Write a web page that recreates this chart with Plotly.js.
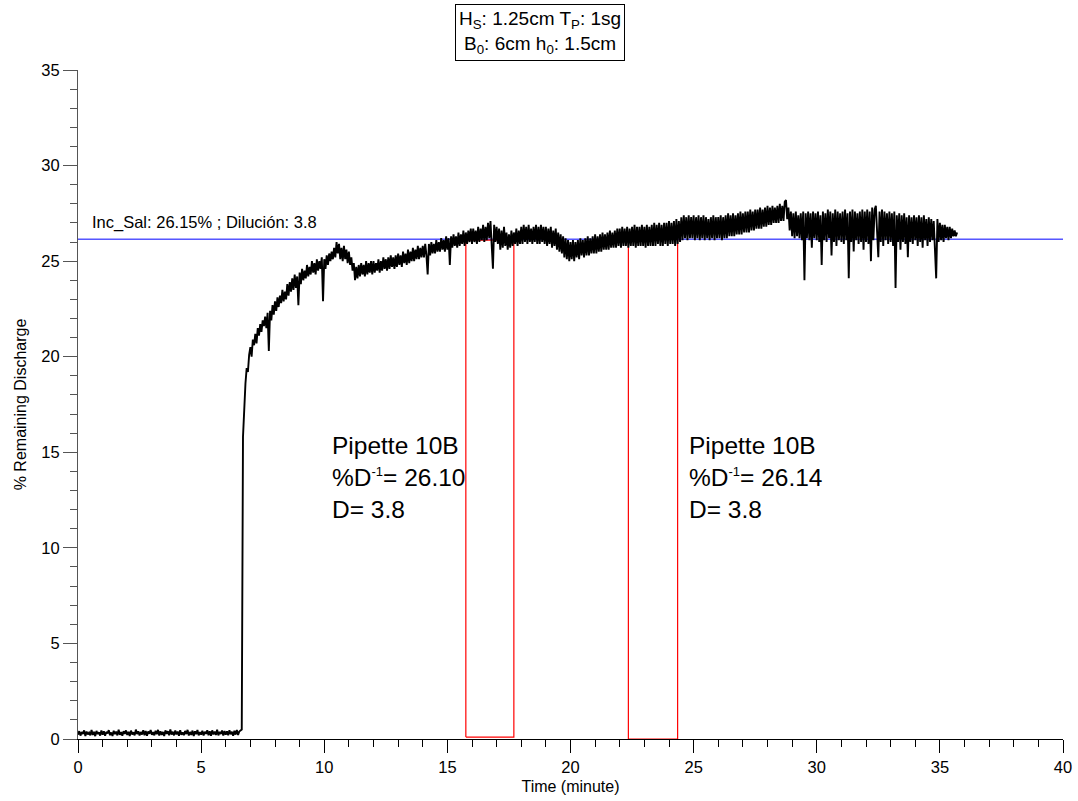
<!DOCTYPE html>
<html>
<head>
<meta charset="utf-8">
<script src="https://cdn.plot.ly/plotly-3.0.1.min.js"></script>
<style>html,body{margin:0;padding:0;background:#fff;}#chart{width:1078px;height:801px;}</style>
</head>
<body>
<div id="chart"></div>
<script>
// Sampling grid of the recorded signal (minutes)
const timeStart = 0.0;
const timeStep = 0.05;

// % Remaining Discharge, one value per sample (rows = 1 minute)
const dischargeBaseline = [ // t = 0.00 .. 6.60
0.22,0.41,0.18,0.36,0.27,0.45,0.16,0.39,0.24,0.33,0.19,0.47,0.21,0.38,0.15,0.42,0.26,0.35,0.18,0.44,
0.23,0.40,0.17,0.37,0.29,0.46,0.20,0.34,0.16,0.43,0.25,0.39,0.19,0.48,0.22,0.36,0.17,0.41,0.27,0.45,
0.21,0.38,0.16,0.44,0.24,0.35,0.19,0.49,0.26,0.40,0.18,0.37,0.23,0.46,0.20,0.42,0.17,0.39,0.28,0.47,
0.22,0.36,0.19,0.43,0.25,0.48,0.18,0.40,0.21,0.37,0.16,0.45,0.27,0.41,0.20,0.50,0.23,0.38,0.19,0.44,
0.24,0.39,0.17,0.46,0.22,0.35,0.20,0.42,0.26,0.48,0.18,0.37,0.21,0.44,0.16,0.40,0.25,0.47,0.19,0.36,
0.23,0.43,0.18,0.38,0.27,0.46,0.20,0.41,0.17,0.45,0.24,0.39,0.21,0.48,0.19,0.37,0.26,0.44,0.18,0.42,
0.22,0.40,0.20,0.46,0.25,0.38,0.17,0.43,0.23,0.47,0.21,0.39,0.45
];
const dischargeMain = [ // t = 6.65 .. 35.70
0.50,15.8,17.6,18.6,19.4,19.2,20.1,
20.5,20.0,20.9,20.6,21.2,20.7,21.5,21.1,21.7,21.3,21.9,21.6,22.1,21.5,22.3,20.3,22.4,21.9,22.7,22.2,
22.9,22.4,23.1,22.6,23.2,22.8,23.5,22.9,23.4,23.0,23.8,23.2,23.9,23.4,24.1,23.5,24.3,23.6,24.2,22.7,
24.4,23.8,24.6,24.0,24.5,24.1,24.8,24.2,24.7,24.3,25.0,24.4,24.9,24.3,25.1,24.5,25.0,24.6,25.2,22.9,
25.1,24.6,25.3,24.8,25.4,25.0,25.5,25.1,25.7,25.2,26.0,25.4,25.9,25.1,25.7,25.0,25.8,25.1,25.6,24.9,
25.5,24.8,25.2,24.5,24.9,24.0,24.7,24.1,24.8,24.2,24.9,24.3,24.8,24.2,25.0,24.3,24.9,24.4,25.0,24.3,
25.0,24.4,24.9,24.5,25.1,24.4,25.0,24.5,25.2,24.6,25.1,24.5,25.2,24.6,25.3,24.7,25.2,24.6,25.3,24.7,
25.4,24.8,25.3,24.7,25.5,24.9,25.4,24.8,25.6,24.9,25.5,25.0,25.7,25.0,25.6,25.1,25.8,25.1,25.7,25.2,
25.8,25.2,25.9,25.3,24.3,25.9,25.3,26.0,25.4,25.9,25.4,26.1,25.5,26.0,25.5,26.2,25.6,26.1,25.5,26.3,
25.6,26.2,24.8,26.3,25.7,26.4,25.8,26.3,25.7,26.5,25.8,26.4,25.9,26.6,25.8,26.5,25.9,26.6,26.0,26.7,
25.9,26.7,26.0,26.6,25.9,26.8,26.0,26.7,26.1,26.9,26.0,26.8,26.1,27.0,26.2,27.1,25.9,24.6,26.9,26.0,
26.8,25.9,26.7,25.6,26.6,25.7,26.8,25.8,26.5,25.6,26.4,25.7,26.6,25.8,26.5,25.9,26.7,25.8,26.6,25.9,
26.8,25.9,26.9,26.0,26.8,25.9,26.9,26.0,26.7,25.9,26.8,26.0,26.9,25.9,26.8,25.9,26.9,26.0,26.8,25.9,
26.8,25.8,26.7,25.9,26.8,25.7,26.6,25.8,26.7,25.6,26.5,25.5,26.4,25.4,26.3,25.2,26.2,25.1,26.1,25.0,
26.0,25.1,26.1,25.0,26.0,25.2,26.1,25.1,26.2,25.3,26.1,25.2,26.2,25.3,26.3,25.3,26.2,25.4,26.3,25.4,
26.4,25.4,26.3,25.5,26.4,25.5,26.5,25.6,26.4,25.6,26.5,25.6,26.6,25.7,26.5,25.7,26.6,25.7,26.7,25.8,
26.7,25.7,26.8,25.8,26.7,25.8,26.8,25.7,26.7,25.8,26.8,25.8,26.9,25.7,26.8,25.8,26.8,25.8,26.9,25.8,
26.8,25.7,26.9,25.8,26.8,25.8,26.9,25.8,27.0,25.8,26.9,25.9,27.0,25.8,26.9,25.8,27.0,25.9,27.0,25.8,
27.1,25.9,27.0,25.9,27.1,25.8,27.2,25.9,27.1,26.0,27.3,26.1,27.4,26.2,27.3,26.1,27.4,26.2,27.3,26.2,
27.4,26.1,27.3,26.2,27.4,26.1,27.3,26.2,27.4,26.1,27.3,26.2,27.2,26.1,27.3,26.2,27.4,26.1,27.3,26.2,
27.3,26.2,27.4,26.1,27.3,26.2,27.4,26.2,27.5,26.3,27.4,26.3,27.5,26.3,27.4,26.4,27.5,26.4,27.6,26.4,
27.5,26.5,27.6,26.5,27.6,26.5,27.7,26.6,27.6,26.6,27.7,26.7,27.7,26.7,27.8,26.7,27.7,26.8,27.8,26.8,
27.9,26.9,27.8,26.9,27.9,27.0,27.8,27.0,27.9,27.0,28.0,27.1,27.9,27.1,28.1,28.2,27.2,27.8,26.6,27.6,
26.3,27.5,26.2,27.6,26.3,27.4,26.2,27.5,26.1,27.6,24.0,27.5,26.2,27.6,26.1,27.5,25.7,27.6,26.2,27.5,
26.1,27.6,26.0,27.4,24.8,27.6,26.1,27.5,26.0,27.7,26.2,27.6,25.3,27.5,26.0,27.7,25.8,27.6,26.1,27.5,
26.0,27.6,25.9,27.7,26.1,27.5,24.1,27.6,26.0,27.7,25.5,27.6,26.1,27.5,25.9,27.6,26.0,27.7,25.6,27.6,
26.0,27.7,25.9,27.6,25.0,27.8,26.1,27.7,27.9,26.0,25.2,27.6,26.0,27.7,25.8,27.6,26.1,27.5,25.9,27.6,
26.0,27.5,25.8,27.6,23.6,27.4,26.0,27.5,25.6,27.4,26.0,27.5,25.9,27.3,25.2,27.4,26.0,27.3,25.9,27.4,
26.1,27.3,25.8,27.4,26.0,27.3,25.7,27.4,26.1,27.2,25.8,27.3,26.0,27.2,26.1,27.1,25.9,24.1,27.2,26.0,
27.0,26.1,26.9,26.0,26.9,26.2,26.8,26.1,26.8,26.2,26.7,26.3,26.6,26.3,26.5
];

// Reference line and pipette sampling windows
const incSal = 26.15;
const incSalLabel = "Inc_Sal: 26.15% ; Dilución: 3.8";
const pipetteStart = [15.75, 22.35];
const pipetteEnd = [17.7, 24.35];
const pipetteBottom = [0.1, 0.0];
const pipetteValue = [26.10, 26.14];
const pipetteLabels = [
  "Pipette 10B<br>%D<sup><span style=\"font-size:13px\">-1</span></sup>= 26.10<br>D= 3.8",
  "Pipette 10B<br>%D<sup><span style=\"font-size:13px\">-1</span></sup>= 26.14<br>D= 3.8"
];
const pipetteLabelX = [10.25, 24.75];
const pipetteLabelY = [13.7, 13.7];
const headerText = "H<sub>S</sub>: 1.25cm T<sub>P</sub>: 1sg<br>B<sub>0</sub>: 6cm h<sub>0</sub>: 1.5cm";
const xRange = [0, 40];
const yRange = [0, 35];

const discharge = dischargeBaseline.concat(dischargeMain);
const times = discharge.map((_, i) => +(timeStart + i * timeStep).toFixed(3));

const traces = [];
traces.push({
  x: [xRange[0], xRange[1]], y: [incSal, incSal],
  mode: 'lines', line: {color: '#0000ff', width: 1}, hoverinfo: 'skip'
});
for (let i = 0; i < pipetteStart.length; i++) {
  traces.push({
    x: [pipetteStart[i], pipetteStart[i], pipetteEnd[i], pipetteEnd[i], pipetteStart[i]],
    y: [pipetteBottom[i], pipetteValue[i], pipetteValue[i], pipetteBottom[i], pipetteBottom[i]],
    mode: 'lines', line: {color: '#ff0000', width: 1.2}, hoverinfo: 'skip'
  });
}
traces.push({
  x: times, y: discharge, mode: 'lines',
  line: {color: '#000000', width: 1.9}, hoverinfo: 'skip'
});

const font = 'Liberation Sans, Arial, sans-serif';
const annotations = [
  {x: 0.49, y: 27.0, xref: 'x', yref: 'y', text: incSalLabel, showarrow: false,
   xanchor: 'left', yanchor: 'middle', font: {family: font, size: 16.5, color: '#000'}},
  {x: 0.469, y: 1.0987, xref: 'paper', yref: 'paper', text: headerText, showarrow: false,
   xanchor: 'center', yanchor: 'top', align: 'center', bordercolor: '#000', borderwidth: 1,
   borderpad: 3, bgcolor: '#fff', font: {family: font, size: 19, color: '#000'}}
];
for (let i = 0; i < pipetteLabels.length; i++) {
  annotations.push({x: pipetteLabelX[i], y: pipetteLabelY[i], xref: 'x', yref: 'y',
    text: pipetteLabels[i], showarrow: false, xanchor: 'left', yanchor: 'middle', align: 'left',
    font: {family: font, size: 24.5, color: '#000'}});
}

const layout = {
  width: 1078, height: 801,
  margin: {l: 78, r: 15, t: 70, b: 62},
  paper_bgcolor: '#fff', plot_bgcolor: '#fff',
  showlegend: false, hovermode: false,
  font: {family: font, size: 16, color: '#000'},
  xaxis: {
    range: xRange, dtick: 5, tick0: 0, ticks: 'outside', ticklen: 13, tickwidth: 1,
    tickcolor: '#000', showline: true, linecolor: '#000', linewidth: 1,
    showgrid: false, zeroline: false,
    minor: {dtick: 1, ticks: 'outside', ticklen: 7, tickcolor: '#000', showgrid: false},
    tickfont: {family: font, size: 16.5, color: '#000'},
    title: {text: 'Time (minute)', font: {family: font, size: 16, color: '#000'}, standoff: 6}
  },
  yaxis: {
    range: yRange, dtick: 5, tick0: 0, ticks: 'outside', ticklen: 14, tickwidth: 1,
    tickcolor: '#555', showline: true, linecolor: '#555', linewidth: 1,
    showgrid: false, zeroline: false,
    minor: {dtick: 1, ticks: 'outside', ticklen: 7, tickcolor: '#555', showgrid: false},
    tickfont: {family: font, size: 16.5, color: '#000'},
    title: {text: '% Remaining Discharge', font: {family: font, size: 16, color: '#000'}, standoff: 10}
  },
  annotations: annotations
};

Plotly.newPlot('chart', traces, layout, {displayModeBar: false, staticPlot: true});
</script>
</body>
</html>
